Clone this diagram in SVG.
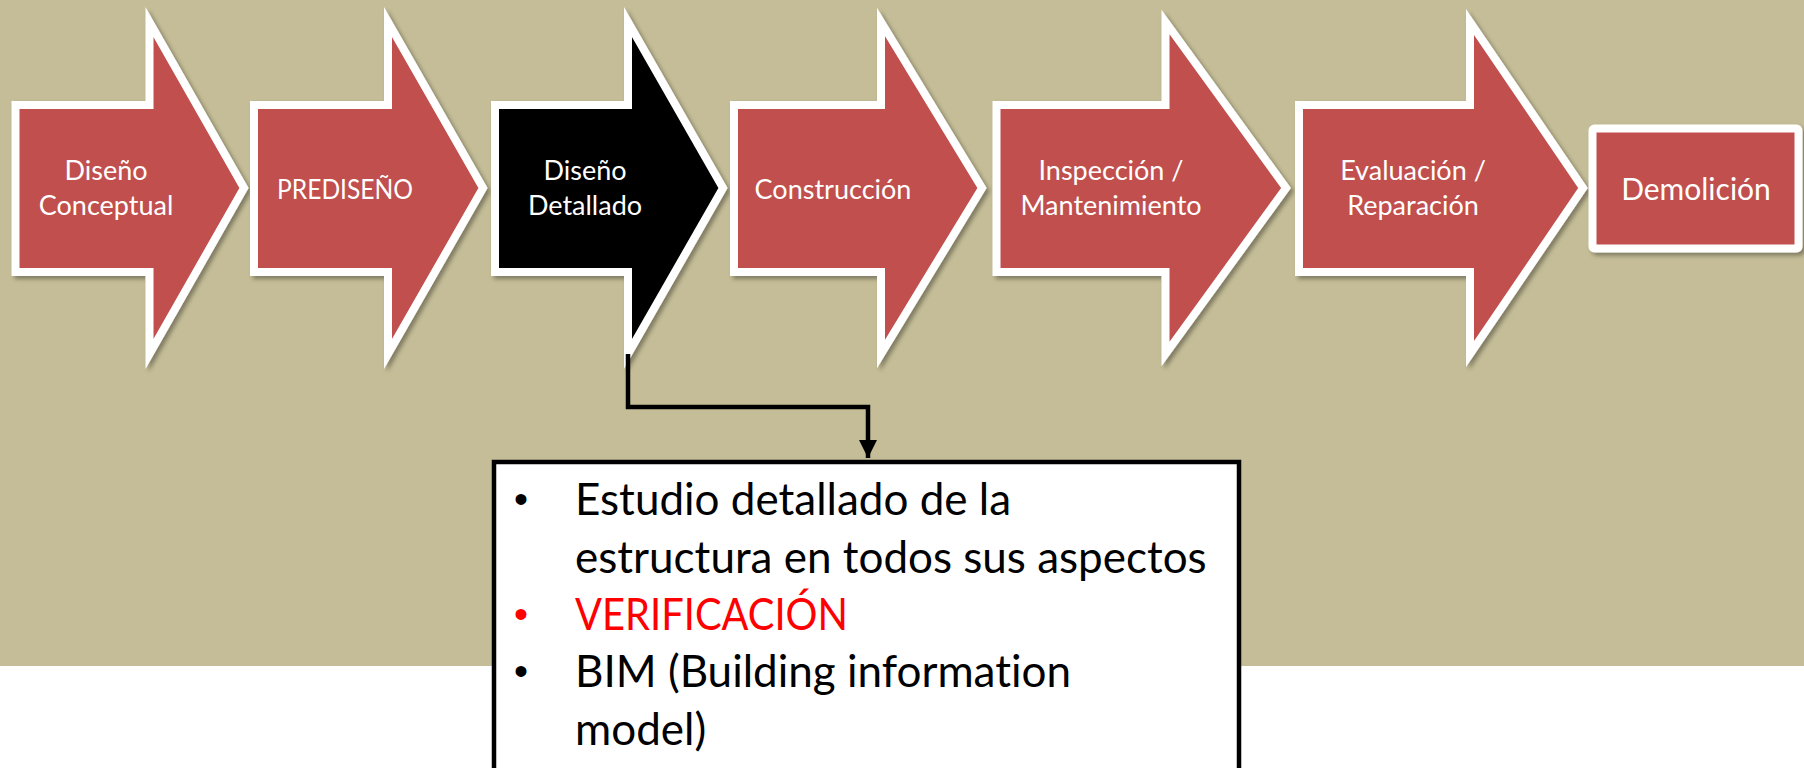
<svg xmlns="http://www.w3.org/2000/svg" width="1804" height="768" viewBox="0 0 1804 768">
  <defs>
    <filter id="sh" x="-10%" y="-10%" width="120%" height="120%">
      <feDropShadow dx="3" dy="3" stdDeviation="2" flood-color="#000" flood-opacity="0.35"/>
    </filter>
    <marker id="ah" viewBox="0 0 10 10" refX="10" refY="5" markerWidth="4" markerHeight="4" markerUnits="strokeWidth" orient="auto">
      <path d="M0,0 L10,5 L0,10 Z" fill="#000"/>
    </marker>
  </defs>
  <style>
    .step { fill: #C0504D; stroke: #FFFFFF; stroke-width: 8; stroke-linejoin: miter; filter: url(#sh); }
    .dark { fill: #000000; }
    .lbl { font-family: Lato, "Open Sans", "Liberation Sans", sans-serif; font-size: 27px; fill: #FFFFFF; text-anchor: middle; }
    .body { font-family: Lato, "Open Sans", "Liberation Sans", sans-serif; font-size: 44px; fill: #000000; font-variant-ligatures: none; }
    .bul { font-family: "Liberation Sans", sans-serif; font-size: 40px; fill: #000000; }
    .red { fill: #FF0000; }
    .conn { fill: none; stroke: #000; stroke-width: 4.5; }
  </style>
  <rect x="0" y="0" width="1804" height="666" fill="#C4BD97"/>

  <g id="node-diseno-conceptual">
    <path class="step" d="M15.5,105 L149.5,105 L149.5,22 L244,188 L149.5,354 L149.5,272 L15.5,272 Z"/>
    <text class="lbl" x="106" y="180">Diseño</text>
    <text class="lbl" x="106" y="215">Conceptual</text>
  </g>
  <g id="node-prediseno">
    <path class="step" d="M254,105 L388,105 L388,22 L483,188 L388,354 L388,272 L254,272 Z"/>
    <text class="lbl" x="345" y="199" textLength="136" lengthAdjust="spacingAndGlyphs">PREDISEÑO</text>
  </g>
  <g id="node-diseno-detallado">
    <path class="step dark" d="M495,105 L628,105 L628,22 L723,188 L628,354 L628,272 L495,272 Z"/>
    <text class="lbl" x="585" y="180">Diseño</text>
    <text class="lbl" x="585" y="215">Detallado</text>
  </g>
  <g id="node-construccion">
    <path class="step" d="M734,105 L881,105 L881,22 L982,188 L881,354 L881,272 L734,272 Z"/>
    <text class="lbl" x="833" y="199">Construcción</text>
  </g>
  <g id="node-inspeccion">
    <path class="step" d="M996.5,105 L1165.5,105 L1165.5,22 L1286,188 L1165.5,354 L1165.5,272 L996.5,272 Z"/>
    <text class="lbl" x="1111" y="180">Inspección /</text>
    <text class="lbl" x="1111" y="215">Mantenimiento</text>
  </g>
  <g id="node-evaluacion">
    <path class="step" d="M1299,105 L1470,105 L1470,22 L1583,188 L1470,354 L1470,272 L1299,272 Z"/>
    <text class="lbl" x="1413" y="180">Evaluación /</text>
    <text class="lbl" x="1413" y="215">Reparación</text>
  </g>
  <g id="node-demolicion">
    <rect class="step" x="1592.5" y="128.5" width="206" height="120" rx="2"/>
    <text class="lbl" x="1696" y="200" style="font-size:30px">Demolición</text>
  </g>

  <g id="connectors">
    <polyline class="conn" points="628,354 628,407 868,407 868,458" marker-end="url(#ah)"/>
  </g>

  <g id="node-detalle">
    <rect x="494" y="462" width="745" height="330" fill="#FFFFFF" stroke="#000" stroke-width="4.5"/>
    <text class="bul" x="514" y="513">•</text>
    <text class="body" x="575" y="515">Estudio detallado de la</text>
    <text class="body" x="575" y="573">estructura en todos sus aspectos</text>
    <text class="bul red" x="514" y="628">•</text>
    <text class="body red" x="575" y="630" textLength="273" lengthAdjust="spacingAndGlyphs">VERIFICACIÓN</text>
    <text class="bul" x="514" y="685">•</text>
    <text class="body" x="575" y="687">BIM (Building information</text>
    <text class="body" x="575" y="745">model)</text>
  </g>
</svg>
